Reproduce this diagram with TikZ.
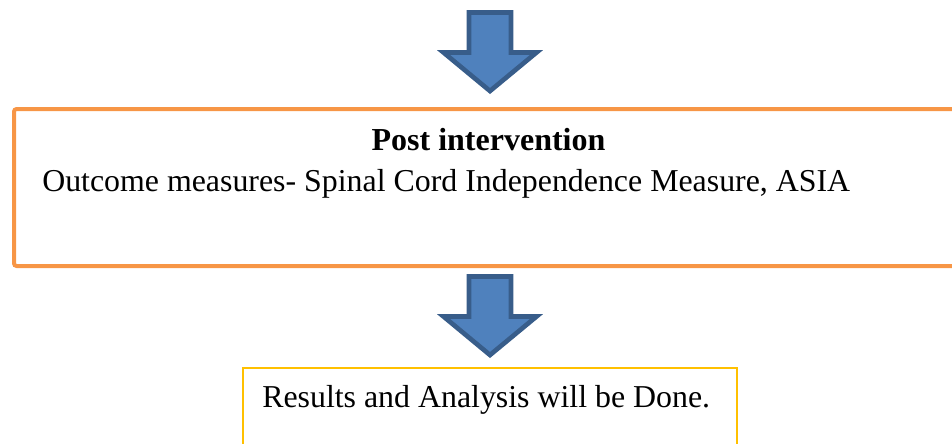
\documentclass[tikz,border=0pt]{standalone}
\usepackage{fontspec}
\setmainfont{Liberation Serif}
\usetikzlibrary{positioning,calc}

\definecolor{boxorange}{HTML}{F79646}
\definecolor{boxyellow}{HTML}{FFC000}
\definecolor{arrowfill}{HTML}{4F81BD}
\definecolor{arrowline}{HTML}{385D8A}

\tikzset{
  stagebox/.style={draw=boxorange, line width=3pt, rounded corners=2pt, anchor=north west, inner sep=0pt},
  endbox/.style={draw=boxyellow, line width=1.5pt, anchor=north west, inner sep=0pt},
  flowtext/.style={font=\fontsize{23.9}{28}\selectfont, inner sep=0pt},
  pics/downarrow/.style={code={
    \filldraw[fill=arrowfill, draw=arrowline, line width=3.5pt, line join=miter]
      (-21,0) -- (21,0) -- (21,40) -- (46.5,40) -- (0,78.5) -- (-46.5,40) -- (-21,40) -- cycle;
  }}
}

\begin{document}
\begin{tikzpicture}[x=0.75pt, y=-0.75pt]
  \useasboundingbox (0,0) rectangle (952,443);
  \clip (0,0) rectangle (952,443);

  % the two boxes
  \node[stagebox, minimum width=722pt, minimum height=117.75pt] (post) at (12,107) {};
  \node[endbox, minimum width=370.5pt, minimum height=70pt] (results) at (242,367) {};

  % texts
  \node[flowtext, font=\fontsize{24}{28}\selectfont\bfseries, anchor=base] (posttitle) at (488.5,150) {Post intervention};
  \node[flowtext, anchor=base west] (outcome) at (42,191.5) {Outcome measures- Spinal Cord Independence Measure, ASIA};
  \node[flowtext, anchor=base west] (analysis) at (262,407) {Results and Analysis will be Done.};

  % block arrows into each box
  \pic at ($(results.north |- post.north)+(0,-94.5)$) {downarrow};
  \pic at ($(results.north |- post.south)+(0,8.5)$) {downarrow};
\end{tikzpicture}
\end{document}
